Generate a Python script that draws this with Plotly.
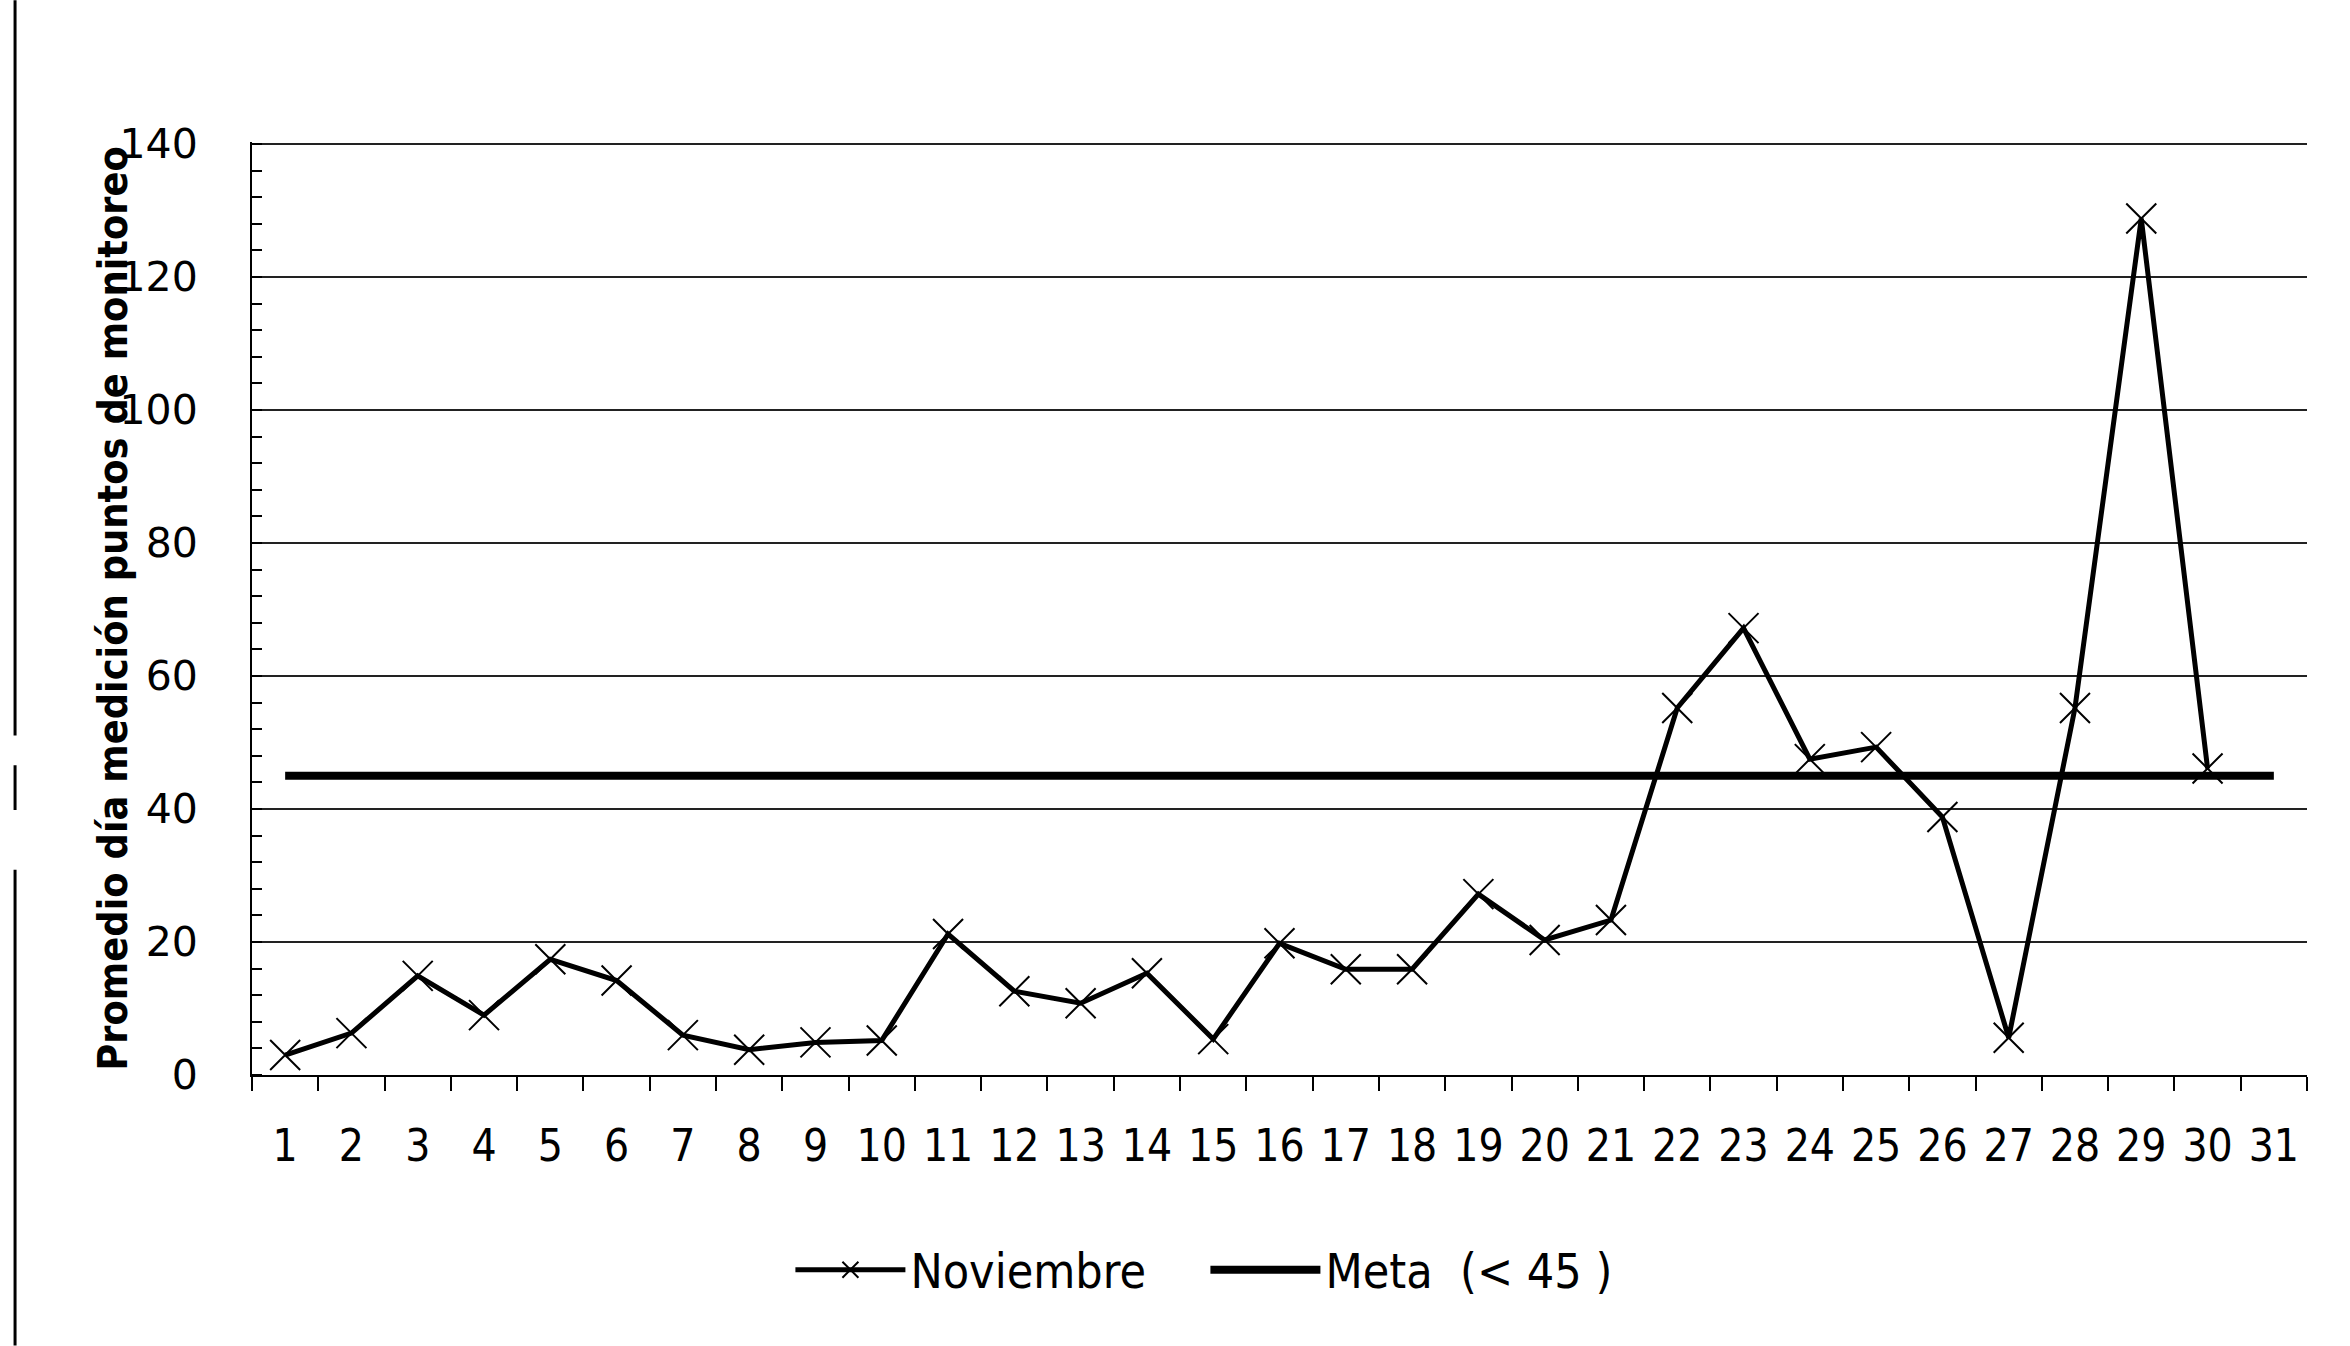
import plotly.graph_objects as go

# Days of the month (category axis)
days = ["1", "2", "3", "4", "5", "6", "7", "8", "9", "10",
        "11", "12", "13", "14", "15", "16", "17", "18", "19", "20",
        "21", "22", "23", "24", "25", "26", "27", "28", "29", "30", "31"]

# Daily average of monitoring points, November (30 days)
noviembre = [3.0, 6.3, 14.9, 9.0, 17.4, 14.2, 6.0, 3.8, 4.9, 5.2,
             21.2, 12.6, 10.8, 15.3, 5.4, 19.8, 15.9, 15.9, 27.2, 20.3,
             23.3, 55.2, 67.2, 47.5, 49.3, 38.8, 5.6, 55.2, 128.8, 46.1]

# Target threshold
meta_goal = 45

y_ticks = [0, 20, 40, 60, 80, 100, 120, 140]

fig = go.Figure()

fig.add_trace(go.Scatter(
    x=days[:len(noviembre)], y=noviembre, name="Noviembre",
    mode="lines+markers",
    line=dict(color="black", width=5),
    marker=dict(symbol="x-thin-open", size=30, color="black",
                line=dict(color="black", width=2)),
))

fig.add_trace(go.Scatter(
    x=[days[0], days[-1]], y=[meta_goal, meta_goal], name="Meta  (< 45 )",
    mode="lines",
    line=dict(color="black", width=8),
))

fig.update_layout(
    width=2350, height=1346,
    margin=dict(l=252, r=43, t=142, b=271),
    paper_bgcolor="white", plot_bgcolor="white",
    showlegend=True,
    legend=dict(orientation="h", x=0.262, y=-0.209, xanchor="left", yanchor="middle",
                font=dict(family="DejaVu Sans Condensed", size=48, color="black"),
                itemwidth=110, entrywidth=290, entrywidthmode="pixels",
                bgcolor="rgba(0,0,0,0)"),
    font=dict(family="DejaVu Sans Condensed", color="black"),
)

fig.update_xaxes(
    type="category", categoryorder="array", categoryarray=days,
    range=[-0.5, len(days) - 0.5],
    showline=True, linecolor="black", linewidth=2,
    ticks="outside", tickson="boundaries", ticklen=14, tickcolor="black", tickwidth=2,
    tickfont=dict(family="DejaVu Sans Condensed", size=44, color="black"),
    ticklabelstandoff=31,
    showgrid=False, zeroline=False,
)

fig.update_yaxes(
    range=[0, 140.3], tickvals=y_ticks,
    showline=True, linecolor="black", linewidth=2,
    showgrid=True, gridcolor="#222222", gridwidth=2,
    zeroline=False, ticks="",
    minor=dict(dtick=4, ticks="inside", ticklen=10, tickcolor="black", tickwidth=2, showgrid=False),
    tickfont=dict(family="DejaVu Sans", size=41, color="black"),
    ticklabelstandoff=44,
)

# Vertical axis title placed close to the tick labels
fig.add_annotation(
    text="<b>Promedio día medición puntos de monitoreo</b>",
    textangle=-90, xref="paper", yref="paper", x=-0.068, y=0.5,
    xanchor="center", yanchor="middle", showarrow=False,
    font=dict(family="DejaVu Sans Condensed", size=41, color="black"),
)

# Page border on the left edge
for y0, y1 in [(1.152, 0.364), (0.332, 0.284), (0.22, -0.29)]:
    fig.add_shape(type="line", xref="paper", yref="paper",
                  x0=-0.1153, x1=-0.1153, y0=y0, y1=y1,
                  line=dict(color="black", width=3))

fig.write_html("out.html")
